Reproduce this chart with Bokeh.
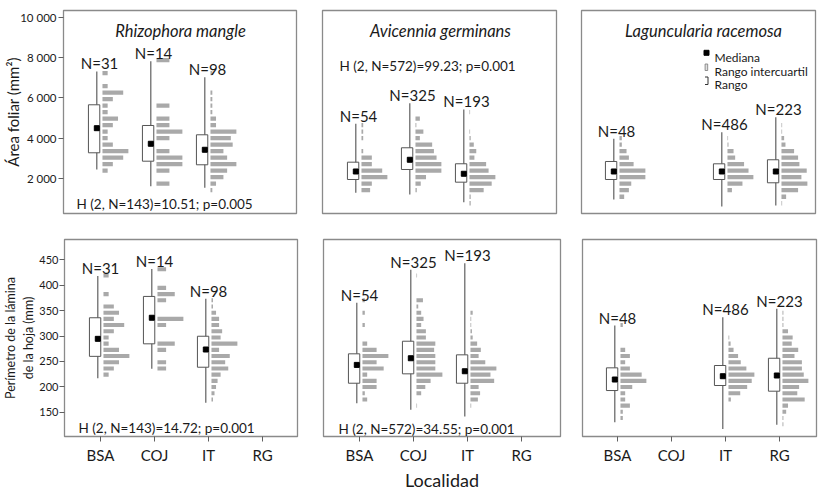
import numpy as np
from bokeh.plotting import figure
from bokeh.models import Range1d, FixedTicker, Label
from bokeh.layouts import column, row
from bokeh.embed import file_html
from bokeh.resources import INLINE
from bokeh.core.properties import value

FONT = "Lato"
TXT = "#1a1a1a"
HIST = "#a9a9a9"
BOXC = "#555555"
WHISK = "#5f5f5f"
FRAME = "#8a8a8a"

# ---------------- data ----------------
LOCALIDADES = ["BSA", "COJ", "IT", "RG"]
rm_sites = ["BSA", "COJ", "IT"]
ag_sites = ["BSA", "COJ", "IT"]
lr_sites = ["BSA", "IT", "RG"]
rm_n = [31, 14, 98]
ag_n = [54, 325, 193]
lr_n = [48, 486, 223]

# Área foliar (mm2)
area_ticks = [2000, 4000, 6000, 8000, 10000]
area_tick_labels = ["2 000", "4 000", "6 000", "8 000", "10 000"]
rm_area_min = [2460, 1634, 1554]
rm_area_q1 = [3287, 2871, 2693]
rm_area_med = [4505, 3733, 3436]
rm_area_q3 = [5663, 4638, 4178]
rm_area_max = [7311, 7822, 7030]
ag_area_min = [1307, 1223, 842]
ag_area_q1 = [1965, 2460, 1832]
ag_area_med = [2361, 2941, 2248]
ag_area_q3 = [2822, 3535, 2743]
ag_area_max = [4722, 5742, 5430]
lr_area_min = [975, 629, 678]
lr_area_q1 = [1965, 1965, 1802]
lr_area_med = [2361, 2361, 2361]
lr_area_q3 = [2856, 2742, 2941]
lr_area_max = [3980, 4307, 5049]

area_bin_origin = 2400
area_bin_width = 322
rm_area_first_bin = [0, -2, -3]
rm_area_counts = [
    [1, 2, 4, 5, 2, 1, 1, 2, 3, 1, 1, 2, 4, 1, 0, 1],
    [1, 0, 1, 2, 2, 1, 0, 1, 2, 1, 1, 0, 1, 0, 0, 0, 0, 0, 0, 1],
    [1, 3, 7, 9, 14, 9, 7, 12, 11, 14, 3, 3, 1, 1, 1, 1, 0, 0, 1],
]
ag_area_first_bin = [-3, -3, -5]
ag_area_counts = [
    [5, 6, 15, 12, 6, 6, 1, 0, 1, 1, 1],
    [3, 12, 24, 59, 59, 48, 42, 38, 10, 18, 2, 10],
    [2, 2, 23, 36, 42, 31, 27, 8, 11, 7, 2, 1, 0, 0, 1],
]
lr_area_first_bin = [-4, -3, -5]
lr_area_counts = [
    [2, 4, 5, 11, 11, 6, 4, 3, 1, 1],
    [22, 74, 128, 104, 82, 38, 30, 5, 3],
    [1, 7, 25, 39, 30, 38, 27, 25, 19, 6, 4, 1, 1],
]

# Perímetro de la lámina (mm)
perim_ticks = [150, 200, 250, 300, 350, 400, 450]
rm_perim_min = [217, 235.5, 168.5]
rm_perim_q1 = [260, 284.7, 238.6]
rm_perim_med = [294.5, 336, 273.5]
rm_perim_q3 = [336, 378, 299.6]
rm_perim_max = [418, 432, 373.3]
ag_perim_min = [167.7, 154.7, 141.5]
ag_perim_q1 = [207.1, 225.6, 207.1]
ag_perim_med = [243.2, 256.3, 230.7]
ag_perim_q3 = [265, 289.8, 263]
ag_perim_max = [365.4, 430.4, 443.4]
lr_perim_min = [130.3, 117, 125.2]
lr_perim_q1 = [192.7, 202.6, 191.4]
lr_perim_med = [214.4, 220.9, 222.3]
lr_perim_q3 = [237.4, 242, 256.3]
lr_perim_max = [320.7, 337, 353.6]

perim_bin_origin = 224
perim_bin_width = 12.2
rm_perim_first_bin = [0, 1, -4]
rm_perim_counts = [
    [1, 2, 3, 5, 3, 1, 1, 2, 4, 2, 3, 2, 0, 1, 0, 0, 1],
    [1, 1, 0, 1, 2, 0, 0, 1, 3, 0, 0, 1, 2, 1, 0, 0, 1],
    [1, 2, 3, 4, 6, 11, 9, 12, 5, 17, 6, 7, 5, 5, 3, 1, 1],
]
ag_perim_first_bin = [-4, -5, -5]
ag_perim_counts = [
    [2, 1, 6, 6, 2, 9, 6, 11, 6, 2, 0, 0, 1, 0, 1, 0, 1],
    [1, 0, 8, 15, 24, 44, 32, 32, 32, 30, 32, 16, 16, 8, 12, 8, 3, 11, 0, 0, 0, 1],
    [1, 10, 13, 11, 32, 27, 35, 20, 11, 14, 9, 3, 2, 1, 1, 3],
]
lr_perim_first_bin = [-7, -4, -8]
lr_perim_counts = [
    [1, 1, 4, 2, 2, 5, 11, 9, 4, 2, 4, 2, 0, 0, 0, 1],
    [9, 44, 70, 87, 97, 67, 46, 36, 19, 8, 3],
    [1, 1, 4, 6, 24, 16, 18, 28, 23, 21, 21, 13, 17, 10, 11, 6, 1, 1, 1],
]

species = ["Rhizophora mangle", "Avicennia germinans", "Laguncularia racemosa"]
rm_area_H = "H (2, N=143)=10.51; p=0.005"
ag_area_H = "H (2, N=572)=99.23; p=0.001"
rm_perim_H = "H (2, N=143)=14.72; p=0.001"
ag_perim_H = "H (2, N=572)=34.55; p=0.001"
legend_labels = ["Mediana", "Rango intercuartil", "Rango"]

# ---------------- layout helpers ----------------
PX = 54.0  # pixels per locality step
AREA_RANGE = (282, 10330)
PERIM_RANGE = (102.2, 490.1)


def fx(p, px):
    return p.x_range.start + px / PX


def fy(p, py):
    span = p.y_range.end - p.y_range.start
    return p.y_range.end - py * span / p.frame_height


def style_axis(ax, size, standoff):
    ax.major_tick_in = 0
    ax.major_tick_out = 5
    ax.minor_tick_line_color = None
    ax.axis_line_color = FRAME
    ax.major_tick_line_color = WHISK
    ax.major_label_text_font = FONT
    ax.major_label_text_font_size = size
    ax.major_label_text_color = TXT
    ax.major_label_standoff = standoff
    ax.axis_label_text_font = FONT
    ax.axis_label_text_font_style = "normal"
    ax.axis_label_text_color = TXT


def panel(sites, n, mins, q1, med, q3, maxs, first_bin, counts, b0, bw,
          yr, fw, fh, first_px, borders, xaxis=False, yaxis=False,
          yticks=None, ylabels=None, ysize="11.5px", ystandoff=2):
    x0 = 1 - first_px / PX
    p = figure(frame_width=fw, frame_height=fh,
               x_range=Range1d(x0, x0 + fw / PX), y_range=Range1d(*yr),
               output_backend="svg", toolbar_location=None,
               x_axis_location="below" if xaxis else None,
               y_axis_location="left" if yaxis else None,
               min_border_left=borders[0], min_border_right=borders[1],
               min_border_top=borders[2], min_border_bottom=borders[3])
    p.grid.visible = False
    p.background_fill_color = "white"
    p.border_fill_color = "white"
    p.outline_line_color = FRAME
    p.outline_line_width = 1.3
    if xaxis:
        ax = p.xaxis[0]
        ax.ticker = FixedTicker(ticks=[1, 2, 3, 4])
        ax.major_label_overrides = {i + 1: s for i, s in enumerate(LOCALIDADES)}
        style_axis(ax, "15px", 4)
    if yaxis:
        ay = p.yaxis[0]
        ay.ticker = FixedTicker(ticks=yticks)
        ay.major_label_overrides = {t: l for t, l in zip(yticks, ylabels)}
        style_axis(ay, ysize, ystandoff)

    xs = np.array([LOCALIDADES.index(s) + 1 for s in sites], dtype=float)
    # histograms
    for x, k0, c in zip(xs, first_bin, counts):
        c = np.array(c, dtype=float)
        centers = b0 + bw * (k0 + np.arange(len(c)))
        m = c > 0
        left = x + 0.055
        p.hbar(y=centers[m], left=left, right=left + c[m] / c.max() * 0.48,
               height=0.66 * bw, fill_color=HIST, line_color=None)
    # range whisker, IQR box, median
    p.segment(x0=xs - 0.05, y0=mins, x1=xs - 0.05, y1=maxs,
              line_color=WHISK, line_width=1.2)
    p.quad(left=xs - 0.205, right=xs + 0.005, bottom=q1, top=q3,
           fill_color="white", line_color=BOXC, line_width=1)
    p.scatter(x=xs - 0.05, y=med, marker="square", size=5,
              fill_color="black", line_color="black")
    p.text(x=xs, y=maxs, text=[f"N={v}" for v in n], text_align="center",
           text_baseline="alphabetic", y_offset=-8, text_font=value(FONT),
           text_font_size="15px", text_color=TXT)
    return p


def add_label(p, px, py, text, size, align="left", style="normal"):
    p.add_layout(Label(x=fx(p, px), y=fy(p, py), text=text, text_font=FONT,
                       text_font_size=size, text_align=align,
                       text_baseline="alphabetic",
                       text_font_style=style, text_color=TXT))


# ---------------- top row: área foliar ----------------
f1 = panel(rm_sites, rm_n, rm_area_min, rm_area_q1, rm_area_med, rm_area_q3, rm_area_max,
           rm_area_first_bin, rm_area_counts, area_bin_origin, area_bin_width,
           AREA_RANGE, 233, 203, 36, (63, 13, 10, 24), yaxis=True,
           yticks=area_ticks, ylabels=area_tick_labels)
f2 = panel(ag_sites, ag_n, ag_area_min, ag_area_q1, ag_area_med, ag_area_q3, ag_area_max,
           ag_area_first_bin, ag_area_counts, area_bin_origin, area_bin_width,
           AREA_RANGE, 234, 203, 36, (13, 14, 10, 24))
f3 = panel(lr_sites, lr_n, lr_area_min, lr_area_q1, lr_area_med, lr_area_q3, lr_area_max,
           lr_area_first_bin, lr_area_counts, area_bin_origin, area_bin_width,
           AREA_RANGE, 234, 203, 35, (11, 2, 10, 24))

# ---------------- bottom row: perímetro ----------------
f4 = panel(rm_sites, rm_n, rm_perim_min, rm_perim_q1, rm_perim_med, rm_perim_q3, rm_perim_max,
           rm_perim_first_bin, rm_perim_counts, perim_bin_origin, perim_bin_width,
           PERIM_RANGE, 233, 197, 36, (63, 13, 2, 50), xaxis=True, yaxis=True,
           yticks=perim_ticks, ylabels=[str(t) for t in perim_ticks],
           ysize="11px", ystandoff=1)
f5 = panel(ag_sites, ag_n, ag_perim_min, ag_perim_q1, ag_perim_med, ag_perim_q3, ag_perim_max,
           ag_perim_first_bin, ag_perim_counts, perim_bin_origin, perim_bin_width,
           PERIM_RANGE, 237, 197, 36, (13, 11, 2, 50), xaxis=True)
f6 = panel(lr_sites, lr_n, lr_perim_min, lr_perim_q1, lr_perim_med, lr_perim_q3, lr_perim_max,
           lr_perim_first_bin, lr_perim_counts, perim_bin_origin, perim_bin_width,
           PERIM_RANGE, 234, 197, 35, (11, 2, 2, 50), xaxis=True)

# axis titles
f1.yaxis[0].axis_label = "Área foliar (mm²)"
f1.yaxis[0].axis_label_text_font_size = "15px"
f1.yaxis[0].axis_label_standoff = -5

f4.yaxis[0].axis_label = "Perímetro de la lámina\nde la hoja (mm)"
f4.yaxis[0].axis_label_text_font_size = "12.5px"
f4.yaxis[0].axis_label_text_line_height = 1.22
f4.yaxis[0].axis_label_standoff = 0

f5.xaxis[0].axis_label = "Localidad"
f5.xaxis[0].axis_label_text_font_size = "18px"
f5.xaxis[0].axis_label_standoff = 2

# titles
add_label(f1, 117, 20, species[0], "16.5px", align="center", style="italic")
add_label(f2, 118, 20, species[1], "16.5px", align="center", style="italic")
add_label(f3, 122, 20, species[2], "16.5px", align="center", style="italic")

# Kruskal-Wallis texts
add_label(f1, 13, 193.3, rm_area_H, "13.5px")
add_label(f2, 17, 55, ag_area_H, "13.5px")
add_label(f4, 14, 188.7, rm_perim_H, "13.5px")
add_label(f5, 15, 189.3, ag_perim_H, "13.5px")

# legend (panel 3)
f3.scatter(x=[fx(f3, 125)], y=[fy(f3, 42.3)], marker="square", size=5,
           fill_color="black", line_color="black")
f3.quad(left=[fx(f3, 123.6)], right=[fx(f3, 126.2)], bottom=[fy(f3, 60)],
        top=[fy(f3, 53.5)], fill_color="#e0e0e0", line_color="#777777", line_width=0.8)
f3.line(x=[fx(f3, 123.5), fx(f3, 126.5), fx(f3, 126.5), fx(f3, 123.5)],
        y=[fy(f3, 66.5), fy(f3, 66.5), fy(f3, 74), fy(f3, 74)],
        line_color="#333333", line_width=1)
for lab, py in zip(legend_labels, [46.6, 61, 74]):
    add_label(f3, 133, py, lab, "12px")

layout = column(row(f1, f2, f3), row(f4, f5, f6))
open("out.html", "w").write(file_html(layout, INLINE))
